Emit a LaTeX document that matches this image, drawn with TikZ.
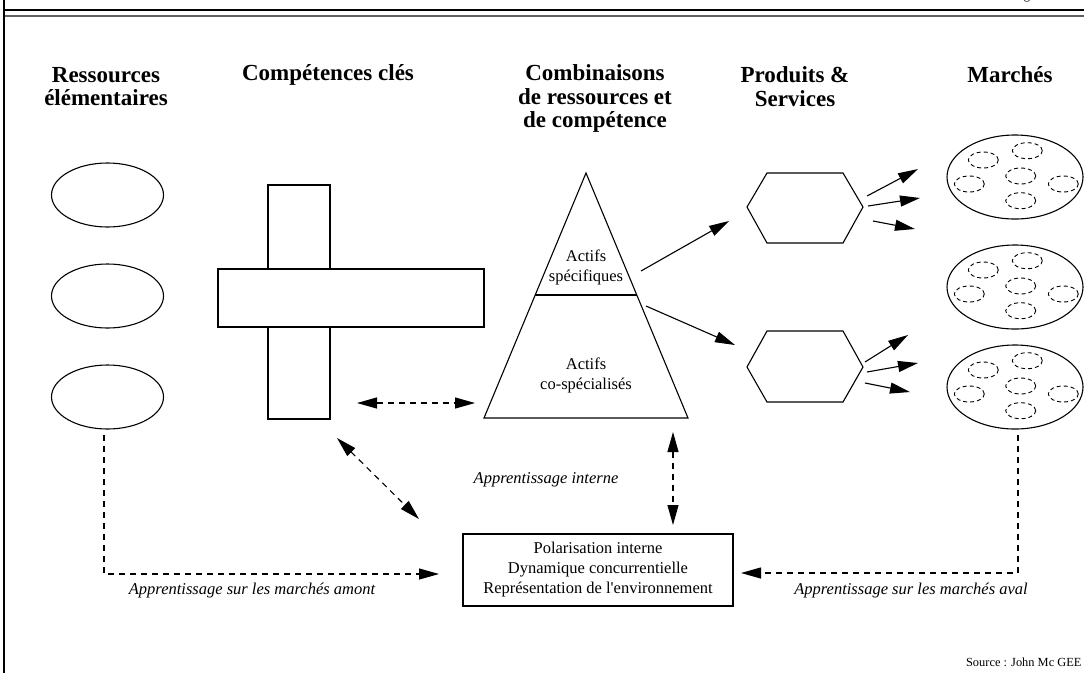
\documentclass[tikz,border=0pt]{standalone}
\usepackage{fontspec}
\setmainfont{Liberation Serif}
\usetikzlibrary{arrows.meta,shapes.geometric}
% straight apostrophe, taken from the font by glyph index
\newcommand{\straightquote}{\XeTeXglyph\XeTeXcharglyph"27\relax}
\begin{document}
\begin{tikzpicture}[x=1pt,y=-1pt,line width=1.1pt,
  heading/.style={font=\fontsize{23}{23.5}\selectfont\bfseries, align=center, inner sep=0pt},
  body/.style={font=\fontsize{16.5}{20}\selectfont, align=center, inner sep=0pt},
  note/.style={font=\fontsize{16.5}{20}\selectfont\itshape, inner sep=0pt},
  resource/.style={draw, ellipse, minimum width=112pt, minimum height=64pt, inner sep=0pt},
  market/.style={draw, ellipse, minimum width=136pt, minimum height=84pt, inner sep=0pt},
  segment/.style={draw, ellipse, line width=0.9pt, dash pattern=on 4pt off 3pt, minimum width=30pt, minimum height=16pt, inner sep=0pt},
  bar/.style={draw, fill=white, inner sep=0pt},
  head/.tip={Triangle[length=20pt,width=11pt]},
  flow/.style={-head},
  link/.style={head-head, dash pattern=on 6pt off 5pt},
  feed/.style={-head, dash pattern=on 6pt off 5pt},
]
\useasboundingbox (0,0) rectangle (1084,673);

% page frame and header rules
\draw (4,0) -- (4,673);
\draw (4,10) -- (1084,10);
\draw[line width=2.6pt, black!62] (5,16) -- (1084,16);
\node[anchor=base, font=\fontsize{12.4}{14}\selectfont, inner sep=0pt] (hdr) at (1027,-1) {g};

% column headings
\node[heading] (h1) at (106,86.5) {Ressources\\élémentaires};
\node[heading] (h2) at (328,75) {Compétences clés};
\node[heading] (h3) at (595,98.5) {Combinaisons\\de ressources et\\de compétence};
\node[heading] (h4) at (795,86.5) {Produits \&\\Services};
\node[heading] (h5) at (1010,75) {Marchés};

% elementary resources
\node[resource] (r1) at (107.5,195) {};
\node[resource] (r2) at (107.5,296) {};
\node[resource] (r3) at (107.5,397) {};

% key competences: a cross of two bars
\node[bar, minimum width=62pt, minimum height=234pt] (vbar) at (299,302) {};
\node[bar, minimum width=266pt, minimum height=58pt] (hbar) at (351,298) {};

% pyramid of combined assets
\coordinate (apex) at (586,173);
\coordinate (bl) at (484,418);
\coordinate (br) at (688,418);
\draw (apex) -- (bl) -- (br) -- cycle;
\draw (535,295) -- (637,295);
\node[body] (spec) at (586,267) {Actifs\\spécifiques};
\node[body] (cospec) at (586,375) {Actifs\\co-spécialisés};

% products and services
\draw (747,207) -- (767,173) -- (843,173) -- (863,207) -- (843,243) -- (767,243) -- cycle;
\draw (747,367) -- (767,331) -- (843,331) -- (863,367) -- (843,402) -- (767,402) -- cycle;

% markets with their segments
\foreach \n/\cy in {1/177,2/287,3/387}{
  \node[market] (m\n) at (1015,\cy) {};
  \node[segment] (m\n a) at (983.3,\cy-17) {};
  \node[segment] (m\n b) at (1027.3,\cy-26.3) {};
  \node[segment] (m\n c) at (1020.7,\cy-1) {};
  \node[segment] (m\n d) at (969.3,\cy+7) {};
  \node[segment] (m\n e) at (1063.3,\cy+7) {};
  \node[segment] (m\n f) at (1020.7,\cy+23.7) {};
}

% central box
\node[draw, body, minimum width=270pt, minimum height=72pt] (pol) at (598,570)
  {Polarisation interne\\Dynamique concurrentielle\\Représentation de l\straightquote environnement};

% flow arrows
\coordinate (t1) at (641,271); \coordinate (p1) at (729,221);
\coordinate (t2) at (646,306); \coordinate (p2) at (735,345);
\draw[flow] (t1) -- (p1);
\draw[flow] (t2) -- (p2);
\foreach \a/\b in {{867,196}/{918,169},{868,206}/{920,198},{873,221}/{915,229},
                   {865,362}/{908,335},{867,372}/{918,363},{865,383}/{910,392}}
  \draw[flow] (\a) -- (\b);

% learning links
\coordinate (c1) at (357,403); \coordinate (c2) at (475,403);
\draw[link] (c1) -- (c2);
\coordinate (d1) at (337,438); \coordinate (d2) at (419,519);
\draw[link] (d1) -- (d2);
\coordinate (e1) at (673,432); \coordinate (e2) at (673,525);
\draw[link] (e1) -- (e2);
\coordinate (up) at (104,435); \coordinate (upend) at (439,574);
\draw[feed] (up) |- (upend);
\coordinate (down) at (1018,435); \coordinate (downend) at (741,573);
\draw[feed] (down) |- (downend);

\node[note] (li) at (546,480) {Apprentissage interne};
\node[note] (lup) at (252,591) {Apprentissage sur les marchés amont};
\node[note] (ldown) at (911,591) {Apprentissage sur les marchés aval};

\node[anchor=base east, font=\fontsize{12.4}{14}\selectfont, inner sep=0pt] (src) at (1082,666) {Source : John Mc GEE};
\end{tikzpicture}
\end{document}
